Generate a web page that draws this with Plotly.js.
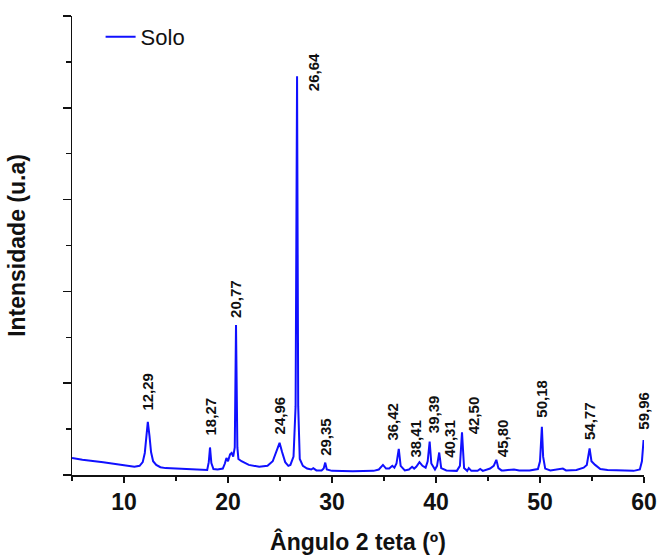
<!DOCTYPE html>
<html>
<head>
<meta charset="utf-8">
<script src="https://cdn.plot.ly/plotly-3.0.1.min.js"></script>
<style>html,body{margin:0;padding:0;background:#fff;}#chart{width:660px;height:555px;}</style>
</head>
<body>
<div id="chart"></div>
<script>
// 2-theta angles (degrees)
var angle = [5, 6, 8, 10, 11, 11.5, 11.8, 12.0, 12.15, 12.29, 12.45, 12.6, 12.8, 13.1, 13.5, 14, 16, 18,
  18.15, 18.27, 18.4, 18.6, 19.0, 19.5, 19.7, 19.85, 20.0, 20.2, 20.35, 20.5, 20.65, 20.77, 20.9, 21.0, 21.3, 21.6, 22, 23,
  23.8, 24.3, 24.6, 24.96, 25.2, 25.5, 25.8, 26.0, 26.3, 26.5, 26.64, 26.75, 26.9, 27.2, 27.6, 28, 28.2, 28.5, 29.0, 29.2, 29.35, 29.5, 30,
  32, 34, 34.5, 34.9, 35.2, 35.5, 35.8, 36.0, 36.2, 36.42, 36.6, 37.0, 37.4, 37.7, 37.9, 38.1, 38.41, 38.7, 39.0, 39.2, 39.39, 39.55, 39.9, 40.1, 40.31, 40.5, 41, 42,
  42.3, 42.5, 42.7, 43.0, 43.15, 43.4, 44, 44.25, 44.5, 45.2, 45.55, 45.8, 46.0, 46.3,
  46.5, 47.5, 48, 49, 49.8, 50.0, 50.18, 50.3, 50.5, 51, 52.2, 52.5, 53.5, 54.2, 54.5, 54.77, 54.95, 55.3, 55.5, 55.8, 56.5, 58, 59, 59.6, 59.8, 59.96, 60];
// intensity (arbitrary units)
var intensity = [37, 33, 28, 22, 18, 20, 28, 48, 85, 116, 85, 50, 30, 22, 17, 15, 13, 11,
  28, 60, 26, 13, 12, 14, 25, 37, 30, 45, 48, 40, 60, 327, 60, 35, 30, 27, 22, 18,
  20, 30, 48, 70, 50, 28, 20, 22, 40, 150, 869, 150, 35, 20, 14, 12, 15, 10, 10, 14, 27, 12, 9,
  8, 9, 12, 22, 14, 14, 20, 16, 25, 57, 20, 10, 12, 18, 14, 18, 28, 20, 16, 30, 73, 25, 12, 20, 49, 15, 10, 9,
  20, 93, 15, 9, 15, 9, 9, 13, 9, 14, 20, 33, 15, 10,
  10, 12, 10, 10, 13, 30, 105, 40, 14, 10, 14, 10, 11, 16, 22, 58, 30, 22, 18, 13, 11, 10, 9, 12, 30, 76, 65];
// labelled peaks
var peakAngles = [12.29, 18.27, 20.77, 24.96, 26.64, 29.35, 36.42, 38.41, 39.39, 40.31, 42.50, 45.80, 50.18, 54.77, 59.96];
// label offsets in pixels (placement only)
var labelXShift = [0, 0, 0, 0, 16, 0, -6, -4, 4, 10, 11, 7, 0, 0, 0];
var labelYShift = [9, 10, 5, 6, -17, 5, 6, 3, 6, -7, -4, 1, 7, 6, 8];

function peakHeight(a) {
  var best = 0;
  for (var i = 0; i < angle.length; i++) {
    if (Math.abs(angle[i] - a) < 0.06 && intensity[i] > best) best = intensity[i];
  }
  return best;
}

var annotations = peakAngles.map(function (a, i) {
  return {
    x: a, y: peakHeight(a), xref: 'x', yref: 'y',
    text: a.toFixed(2).replace('.', ','),
    textangle: -90, showarrow: false,
    xanchor: 'center', yanchor: 'bottom',
    xshift: labelXShift[i], yshift: labelYShift[i],
    font: {family: 'Liberation Sans, Arial, sans-serif', size: 15, color: '#111', weight: 'bold'}
  };
});

var trace = {
  x: angle, y: intensity, type: 'scatter', mode: 'lines', name: 'Solo',
  line: {color: '#1010ff', width: 2}
};

var layout = {
  width: 660, height: 555,
  margin: {l: 72, r: 16, t: 16, b: 80},
  paper_bgcolor: '#fff', plot_bgcolor: '#fff',
  font: {family: 'Liberation Sans, Arial, sans-serif', color: '#111'},
  showlegend: true,
  legend: {x: 0.05, y: 1.0, xanchor: 'left', yanchor: 'top', bgcolor: 'rgba(0,0,0,0)',
    font: {size: 22, family: 'Liberation Sans, Arial, sans-serif', color: '#111'}},
  xaxis: {
    range: [5, 60], dtick: 10, tick0: 0, ticks: 'outside', ticklen: 6, tickwidth: 1.5, tickcolor: '#111',
    showline: true, linecolor: '#111', linewidth: 1.5, showgrid: false, zeroline: false,
    tickfont: {size: 23, weight: 'bold', color: '#111'},
    minor: {dtick: 5, ticks: 'outside', ticklen: 4, tickwidth: 1.5, tickcolor: '#111', showgrid: false},
    title: {text: 'Ângulo 2 teta (º)', font: {size: 23, weight: 'bold', color: '#111'}, standoff: 28}
  },
  yaxis: {
    range: [0, 1000], dtick: 200, ticks: 'outside', ticklen: 8, tickwidth: 1.5, tickcolor: '#111',
    showticklabels: false, showline: true, linecolor: '#111', linewidth: 1.5, showgrid: false, zeroline: false,
    minor: {dtick: 100, ticks: 'outside', ticklen: 5, tickwidth: 1.5, tickcolor: '#111', showgrid: false},
    title: {text: 'Intensidade (u.a)', font: {size: 23, weight: 'bold', color: '#111'}, standoff: 30}
  },
  annotations: annotations
};

Plotly.newPlot('chart', [trace], layout, {displayModeBar: false, staticPlot: true});
</script>
</body>
</html>
